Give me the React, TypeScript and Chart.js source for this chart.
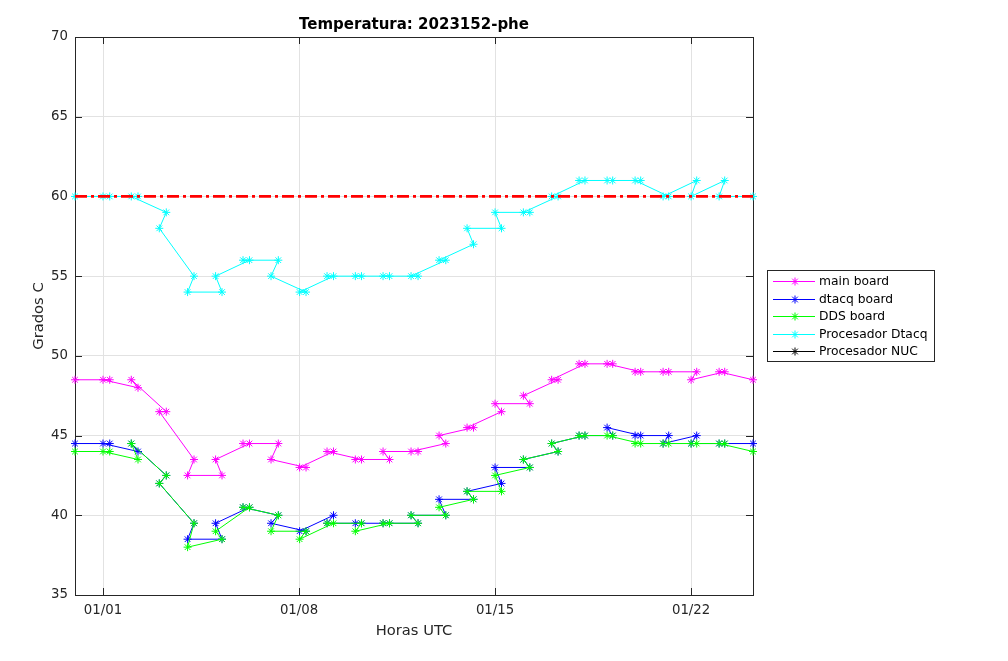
import { useEffect, useRef } from "react";
import { Chart, registerables } from "chart.js";

Chart.register(...registerables);

// sample times in days after 01/01 (file order, later sample of each day listed first)
const sampleDays = [
  -1.0, 0.24, 0.0, 1.25, 1.01, 2.26, 2.01, 3.25, 3.02, 4.25, 4.02, 5.23, 5.0,
  6.26, 6.0, 7.25, 7.02, 8.23, 8.0, 9.23, 9.01, 10.23, 10.0, 11.25, 11.0,
  12.24, 12.0, 13.23, 13.0, 14.23, 14.0, 15.24, 15.01, 16.25, 16.02, 17.21,
  17.0, 18.2, 18.0, 19.2, 19.0, 20.2, 20.0, 21.2, 21.0, 22.2, 22.0, 23.21,
];

const mainBoard = [
  48.5, 48.5, 48.5, 48, 48.5, 46.5, 46.5, 43.5, 42.5, 42.5, 43.5, 44.5, 44.5,
  44.5, 43.5, 43, 43, 44, 44, 43.5, 43.5, 43.5, 44, 44, 44, 44.5, 45, 45.5,
  45.5, 46.5, 47, 47, 47.5, 48.5, 48.5, 49.5, 49.5, 49.5, 49.5, 49, 49, 49, 49,
  49, 48.5, 49, 49, 48.5,
];

const dtacqBoard = [
  44.5, 44.5, 44.5, 44, 44.5, 42.5, 42, 39.5, 38.5, 38.5, 39.5, 40.5, 40.5, 40,
  39.5, 39, 39, 40, 39.5, 39.5, 39.5, 39.5, 39.5, 39.5, 40, 40, 41, 41, 41.5,
  42, 43, 43, 43.5, 44, 44.5, 45, 45, 45, 45.5, 45, 45, 45, 44.5, 45, 44.5,
  44.5, 44.5, 44.5,
];

const ddsBoard = [
  44, 44, 44, 43.5, 44.5, 42.5, 42, 39.5, 38, 38.5, 39, 40.5, 40.5, 40, 39, 39,
  38.5, 39.5, 39.5, 39.5, 39, 39.5, 39.5, 39.5, 40, 40, 40.5, 41, 41.5, 41.5,
  42.5, 43, 43.5, 44, 44.5, 45, 45, 45, 45, 44.5, 44.5, 44.5, 44.5, 44.5, 44.5,
  44.5, 44.5, 44,
];

const procDtacq = [
  60, 60, 60, 60, 60, 59, 58, 55, 54, 54, 55, 56, 56, 56, 55, 54, 54, 55, 55,
  55, 55, 55, 55, 55, 55, 56, 56, 57, 58, 58, 59, 59, 59, 60, 60, 61, 61, 61,
  61, 61, 61, 60, 60, 61, 60, 61, 60, 60,
];

const procNuc: number[] = [];

// alarm limit
const limitDays = [-1.0, 23.21];
const limitTemp = [60, 60];

const seriesNames = [
  "main board",
  "dtacq board",
  "DDS board",
  "Procesador Dtacq",
  "Procesador NUC",
];
const seriesColors = ["#ff00ff", "#0000ff", "#00ff00", "#00ffff", "#000000"];

const dateTicks = [0, 7, 14, 21];
const dateLabels = ["01/01", "01/08", "01/15", "01/22"];
const tempTicks = [35, 40, 45, 50, 55, 60, 65, 70];

const FONT = "'DejaVu Sans', sans-serif";
const AXIS = "#262626";

const toPoints = (xs: number[], ys: number[]) =>
  ys.map((y, i) => ({ x: xs[i], y }));

function drawStar(ctx: CanvasRenderingContext2D, x: number, y: number, r: number) {
  const d = r * Math.SQRT1_2;
  ctx.beginPath();
  ctx.moveTo(x - r, y);
  ctx.lineTo(x + r, y);
  ctx.moveTo(x, y - r);
  ctx.lineTo(x, y + r);
  ctx.moveTo(x - d, y - d);
  ctx.lineTo(x + d, y + d);
  ctx.moveTo(x - d, y + d);
  ctx.lineTo(x + d, y - d);
  ctx.stroke();
}

const framePlugin = {
  id: "matlabFrame",
  beforeDatasetsDraw(chart: any) {
    const { ctx, chartArea: a, scales } = chart;
    ctx.save();
    ctx.strokeStyle = AXIS;
    ctx.lineWidth = 1;
    ctx.strokeRect(a.left + 0.5, a.top + 0.5, a.right - a.left, a.bottom - a.top);
    ctx.beginPath();
    dateTicks.forEach((v) => {
      const px = Math.round(scales.x.getPixelForValue(v)) + 0.5;
      ctx.moveTo(px, a.bottom);
      ctx.lineTo(px, a.bottom - 7);
      ctx.moveTo(px, a.top);
      ctx.lineTo(px, a.top + 7);
    });
    tempTicks.forEach((v) => {
      const py = Math.round(scales.y.getPixelForValue(v)) + 0.5;
      ctx.moveTo(a.left, py);
      ctx.lineTo(a.left + 7, py);
      ctx.moveTo(a.right, py);
      ctx.lineTo(a.right - 7, py);
    });
    ctx.stroke();
    ctx.restore();
  },
  afterDraw(chart: any) {
    const { ctx, chartArea: a } = chart;
    const cx = (a.left + a.right) / 2;
    ctx.save();
    ctx.textAlign = "center";
    ctx.textBaseline = "middle";

    ctx.fillStyle = "#000";
    ctx.font = `bold 15px ${FONT}`;
    ctx.fillText("Temperatura: 2023152-phe", cx, 25);

    ctx.fillStyle = AXIS;
    ctx.font = `14.7px ${FONT}`;
    ctx.fillText("Horas UTC", cx, 631);
    ctx.save();
    ctx.translate(39, (a.top + a.bottom) / 2);
    ctx.rotate(-Math.PI / 2);
    ctx.fillText("Grados C", 0, 0);
    ctx.restore();

    // legend box
    const bx = 767.5;
    const by = 270.5;
    ctx.fillStyle = "#fff";
    ctx.fillRect(bx, by, 167, 91);
    ctx.strokeStyle = AXIS;
    ctx.lineWidth = 1;
    ctx.strokeRect(bx, by, 167, 91);
    ctx.textAlign = "left";
    ctx.font = `12.3px ${FONT}`;
    seriesNames.forEach((name, i) => {
      const y = Math.round(281 + i * 17.6) + 0.5;
      ctx.strokeStyle = seriesColors[i];
      ctx.beginPath();
      ctx.moveTo(773, y);
      ctx.lineTo(815, y);
      ctx.stroke();
      drawStar(ctx, 795, y, 4);
      ctx.fillStyle = "#000";
      ctx.fillText(name, 819, y);
    });
    ctx.restore();
  },
};

export default function App() {
  const canvasRef = useRef<HTMLCanvasElement | null>(null);
  const chartRef = useRef<Chart | null>(null);

  useEffect(() => {
    if (!canvasRef.current) return;
    const ctx = canvasRef.current.getContext("2d");
    if (!ctx) return;

    const series = [mainBoard, dtacqBoard, ddsBoard, procDtacq, procNuc];
    const datasets: any[] = series.map((vals, i) => ({
      label: seriesNames[i],
      data: toPoints(sampleDays, vals),
      borderColor: seriesColors[i],
      backgroundColor: seriesColors[i],
      borderWidth: 1,
      pointStyle: "star",
      pointRadius: 4,
      pointBorderWidth: 1,
      pointBorderColor: seriesColors[i],
      tension: 0,
      fill: false,
      order: 10 - i, // later series drawn on top, as in the original
      clip: 8,
    }));
    datasets.push({
      label: "limite",
      data: toPoints(limitDays, limitTemp),
      borderColor: "#ff0000",
      borderWidth: 2.7,
      borderDash: [12, 4, 3, 4],
      pointRadius: 0,
      fill: false,
      order: 0,
    });

    chartRef.current = new Chart(ctx, {
      type: "line",
      data: { datasets },
      options: {
        responsive: true,
        maintainAspectRatio: false,
        animation: false,
        events: [],
        layout: { padding: { top: 37, right: 255, left: 0, bottom: 0 } },
        plugins: {
          legend: { display: false },
          tooltip: { enabled: false },
          title: { display: false },
        },
        scales: {
          x: {
            type: "linear",
            min: -1,
            max: 23.21,
            afterBuildTicks: (s: any) => {
              s.ticks = dateTicks.map((value) => ({ value }));
            },
            afterFit: (s: any) => {
              s.height = 66;
            },
            ticks: {
              autoSkip: false,
              maxRotation: 0,
              padding: 8,
              color: AXIS,
              font: { family: FONT, size: 13.3 },
              callback: (value: any) => {
                const i = dateTicks.indexOf(Number(value));
                return i >= 0 ? dateLabels[i] : "";
              },
            },
            grid: { color: "#e2e2e2", lineWidth: 1, drawTicks: false },
            border: { display: false },
          },
          y: {
            type: "linear",
            min: 35,
            max: 70,
            afterBuildTicks: (s: any) => {
              s.ticks = tempTicks.map((value) => ({ value }));
            },
            afterFit: (s: any) => {
              s.width = 75;
            },
            ticks: {
              padding: 7,
              color: AXIS,
              font: { family: FONT, size: 13.3 },
            },
            grid: { color: "#e2e2e2", lineWidth: 1, drawTicks: false },
            border: { display: false },
          },
        },
      },
      plugins: [framePlugin],
    });

    return () => {
      if (chartRef.current) {
        chartRef.current.destroy();
        chartRef.current = null;
      }
    };
  }, []);

  return (
    <div
      style={{
        position: "fixed",
        top: 0,
        left: 0,
        width: "1008px",
        height: "661px",
        background: "#fff",
      }}
    >
      <canvas ref={canvasRef} />
    </div>
  );
}
